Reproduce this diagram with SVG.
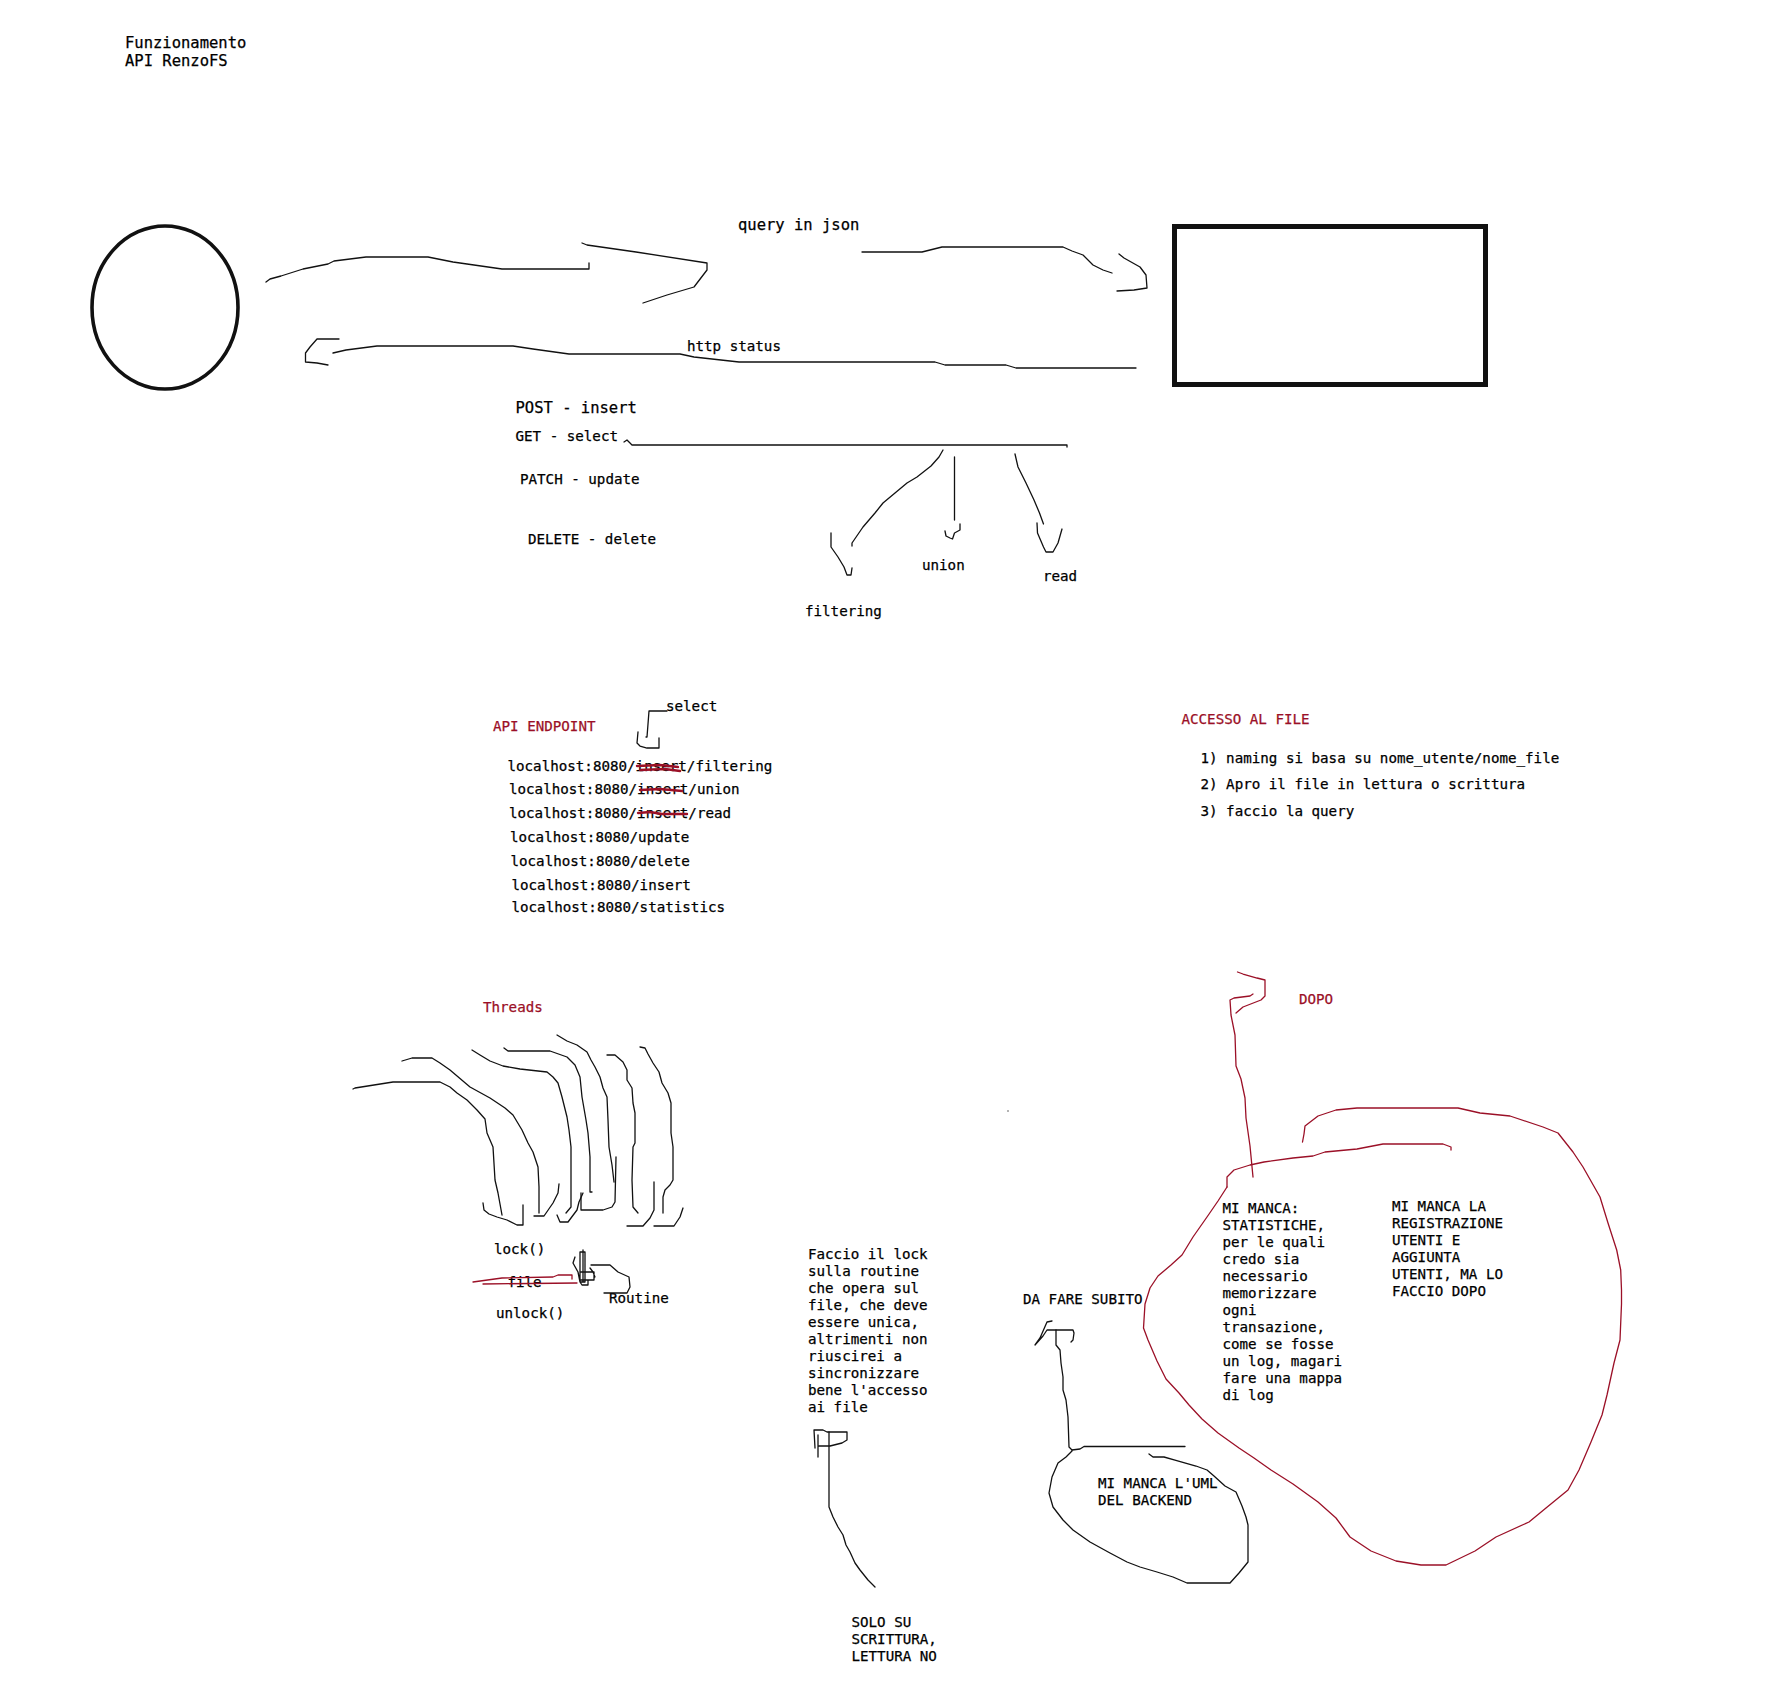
<svg xmlns="http://www.w3.org/2000/svg" width="1772" height="1699" viewBox="0 0 1772 1699">
<style>
text{font-family:"DejaVu Sans Mono","Liberation Mono",monospace;font-size:14.2px;fill:#000;stroke:#000;stroke-width:0.25}
.big{font-size:15.5px}
.red{fill:#9b1027;stroke:#9b1027}
.ln{fill:none;stroke:#111;stroke-width:1.3;stroke-linejoin:round;stroke-linecap:round}
.rl{fill:none;stroke:#9b1027;stroke-width:1.3;stroke-linejoin:round;stroke-linecap:round}
.st{fill:none;stroke:#9b1027;stroke-width:2.4;stroke-linecap:round}
</style>
<rect width="1772" height="1699" fill="#fff"/>
<g id="title"><text class="big" x="125" y="48">Funzionamento</text><text class="big" x="125" y="66">API RenzoFS</text></g>
<g id="client"><ellipse cx="165" cy="307.5" rx="73" ry="81.5" fill="none" stroke="#111" stroke-width="3.6"/></g>
<g id="server"><rect x="1174.5" y="226.5" width="311" height="158" fill="none" stroke="#111" stroke-width="5"/></g>
<g id="labels-top">
<text class="big" x="738" y="230">query in json</text>
<text x="687" y="351">http status</text>
<text class="big" x="515.5" y="413">POST - insert</text>
<text x="515.5" y="441">GET - select</text>
<text x="520" y="484">PATCH - update</text>
<text x="528" y="544">DELETE - delete</text>
<text x="922" y="570">union</text>
<text x="1043" y="581">read</text>
<text x="805" y="616">filtering</text>
</g>
<g id="endpoints">
<text class="red" x="493" y="731">API ENDPOINT</text>
<text x="666" y="711">select</text>
<text x="507.5" y="770.5">localhost:8080/insert/filtering</text>
<text x="509" y="794">localhost:8080/insert/union</text>
<text x="509" y="817.5">localhost:8080/insert/read</text>
<text x="510" y="841.5">localhost:8080/update</text>
<text x="510.5" y="866">localhost:8080/delete</text>
<text x="511.5" y="890">localhost:8080/insert</text>
<text x="511.5" y="912">localhost:8080/statistics</text>
<path class="st" d="M637 766 L660 765 L678 767 M640 770 L665 769 L680 771"/>
<path class="st" d="M640 790 L660 789 L682 791"/>
<path class="st" d="M638 813 L650 812 L662 814 L687 814"/>
</g>
<g id="accesso">
<text class="red" x="1181.5" y="724">ACCESSO AL FILE</text>
<text x="1200.5" y="763">1) naming si basa su nome_utente/nome_file</text>
<text x="1200.5" y="789">2) Apro il file in lettura o scrittura</text>
<text x="1200.5" y="816">3) faccio la query</text>
</g>
<g id="threads">
<text class="red" x="483" y="1011.5">Threads</text>
<text x="494" y="1254">lock()</text>
<text x="507.5" y="1287">file</text>
<text x="496" y="1318">unlock()</text>
<text x="609" y="1303">Routine</text>
</g>
<g id="faccio">
<text x="808" y="1259">Faccio il lock</text>
<text x="808" y="1276">sulla routine</text>
<text x="808" y="1293">che opera sul</text>
<text x="808" y="1310">file, che deve</text>
<text x="808" y="1327">essere unica,</text>
<text x="808" y="1344">altrimenti non</text>
<text x="808" y="1361">riuscirei a</text>
<text x="808" y="1378">sincronizzare</text>
<text x="808" y="1395">bene l'accesso</text>
<text x="808" y="1412">ai file</text>
</g>
<g id="solo"><text x="851.5" y="1626.5">SOLO SU</text><text x="851.5" y="1643.5">SCRITTURA,</text><text x="851.5" y="1660.5">LETTURA NO</text></g>
<g id="subito"><text x="1023" y="1304">DA FARE SUBITO</text></g>
<g id="uml"><text x="1098" y="1488">MI MANCA L'UML</text><text x="1098" y="1505">DEL BACKEND</text></g>
<g id="dopo"><text class="red" x="1299" y="1004">DOPO</text></g>
<g id="manca-stat">
<text x="1222.5" y="1213">MI MANCA:</text>
<text x="1222.5" y="1230">STATISTICHE,</text>
<text x="1222.5" y="1247">per le quali</text>
<text x="1222.5" y="1264">credo sia</text>
<text x="1222.5" y="1281">necessario</text>
<text x="1222.5" y="1298">memorizzare</text>
<text x="1222.5" y="1315">ogni</text>
<text x="1222.5" y="1332">transazione,</text>
<text x="1222.5" y="1349">come se fosse</text>
<text x="1222.5" y="1366">un log, magari</text>
<text x="1222.5" y="1383">fare una mappa</text>
<text x="1222.5" y="1400">di log</text>
</g>
<g id="manca-reg">
<text x="1392" y="1211">MI MANCA LA</text>
<text x="1392" y="1228">REGISTRAZIONE</text>
<text x="1392" y="1245">UTENTI E</text>
<text x="1392" y="1262">AGGIUNTA</text>
<text x="1392" y="1279">UTENTI, MA LO</text>
<text x="1392" y="1296">FACCIO DOPO</text>
</g>
<g id="connectors">
<path class="ln" d="M266 282 L270 279 L281 276 L303 269 L328 264 L334 261 L366 257 L428 257 L453 262 L502 269 L589 269 L589 263"/>
<path class="ln" d="M582 243 L587 245 L636 252 L707 263 L707 270 L694 287 L667 295 L643 303"/>
<path class="ln" d="M862 252 L922 252 L942 247 L1063 247 L1072 251 L1083 255 L1093 265 L1103 270 L1112 273"/>
<path class="ln" d="M1119 254 L1124 258 L1140 267 L1146 275 L1147 288 L1134 290 L1117 291"/>
<path class="ln" d="M339 339 L317 339 L310 347 L305.5 353 L305.5 362 L317 363 L328 365"/>
<path class="ln" d="M333 353 L346 350 L377 346 L513 346 L533 349 L569 354 L680 354 L694 357 L739 362 L935 362 L945 365 L1006 365 L1016 368 L1136 368"/>
<path class="ln" d="M624 442 L627 440 L632 445 L1067 445 L1067 447"/>
<path class="ln" d="M943 450 L939 457 L931 466 L917 477 L907 483 L895 493 L883 503 L875 513 L863 527 L852 543 L852 546"/>
<path class="ln" d="M831 533 L831 547 L838 557 L844 567 L847 575 L851 575 L852 568"/>
<path class="ln" d="M954.5 457 L954.5 520"/>
<path class="ln" d="M945 531 L946 536 L950 538 L952.5 539 L954.5 533 L960 530 L960 524"/>
<path class="ln" d="M1015 454 L1018 467 L1026 483 L1034 500 L1039.5 513 L1043.5 524"/>
<path class="ln" d="M1037 523 L1037.5 533 L1043.5 547 L1046 552 L1053 552 L1058 543 L1062 529"/>
<path class="ln" d="M667 711 L649 711 L647 737 L646 737"/>
<path class="ln" d="M638 732 L637 743 L640 746 L647 748 L659 748 L659 738"/>
<path class="ln" d="M353 1089 L355 1088 L393 1082 L440 1082 L450 1087 L457 1093 L467 1100 L477 1110 L485 1119 L487 1133 L493 1147 L495 1180 L498 1193 L502 1215"/>
<path class="ln" d="M483 1203 L484 1210 L489 1214 L497 1217 L507 1220 L517 1225 L523 1225 L523 1205"/>
<path class="ln" d="M402 1061 L412 1058 L432 1058 L440 1063 L450 1070 L470 1087 L490 1098 L505 1108 L513 1115 L522 1130 L528 1143 L533 1152 L538 1167 L539 1187 L539 1213"/>
<path class="ln" d="M534 1216 L544 1216 L553 1203 L558 1193 L559 1184"/>
<path class="ln" d="M472 1050 L480 1055 L490 1061 L503 1066 L520 1069 L547 1072 L553 1077 L558 1083 L562 1097 L567 1117 L569 1130 L571 1147 L571 1207 L566 1213"/>
<path class="ln" d="M557 1215 L560 1222 L568 1222 L577 1210 L579 1202 L583 1193"/>
<path class="ln" d="M504 1048 L508 1051 L520 1051 L550 1051 L567 1057 L575 1065 L580 1077 L582 1097 L586 1120 L588 1133 L590 1157 L590 1192 L592 1192"/>
<path class="ln" d="M581 1193 L581 1210 L603 1210 L612 1207 L615 1202 L616 1157"/>
<path class="ln" d="M557 1035 L567 1041 L577 1045 L587 1052 L591 1060 L595 1067 L600 1077 L603 1088 L607 1097 L608 1120 L609 1147 L612 1165 L614 1182"/>
<path class="ln" d="M607 1055 L615 1055 L623 1062 L627 1070 L627 1080 L632 1088 L633 1103 L635 1113 L635 1143 L633 1147 L632 1180 L633 1207 L638 1213"/>
<path class="ln" d="M627 1226 L643 1226 L650 1218 L654 1210 L654 1182"/>
<path class="ln" d="M640 1047 L645 1048 L648 1054 L653 1063 L659 1072 L662 1083 L668 1093 L671 1103 L671 1133 L673 1147 L673 1180 L670 1185 L665 1190 L663 1197 L663 1213"/>
<path class="ln" d="M654 1226 L674 1226 L680 1217 L683 1208"/>
<path class="rl" d="M473 1282 L502 1278 L553 1277 L558 1275 L572 1275 L572 1279"/>
<path class="rl" d="M483 1284 L577 1283"/>
<path class="ln" d="M580 1252 L585 1252 L585 1282 L580 1282 Z M581 1272 L594 1272 L594 1280 L581 1280 M583 1250 L583 1282 M575 1257 L573 1263 L578 1272 L580 1282 L582 1285 L588 1285 L588 1280 M590 1268 L593 1272 L595 1277"/>
<path class="ln" d="M591 1265 L610 1265 L618 1272 L629 1277 L630 1287 L627 1293 L604 1293"/>
<path class="ln" d="M814 1430 L823 1430 L827 1432 L847 1432 L847 1440 L842 1443 L830 1446 L819 1446 M814 1430 L815 1448 M818 1435 L818 1457"/>
<path class="ln" d="M829 1432 L829 1507 L833 1517 L838 1527 L843 1535 L846 1545 L850 1552 L855 1563 L860 1570 L868 1580 L875 1587"/>
<path class="ln" d="M1052 1321 L1047 1322 L1040 1338 L1035 1345 L1043 1336 L1047 1330 L1073 1330 L1074 1333 L1073 1340 L1071 1342"/>
<path class="ln" d="M1056 1330 L1056 1345 L1060 1350 L1061 1363 L1063 1377 L1063 1390 L1066 1400 L1068 1417 L1069 1447 L1072 1450"/>
<path class="ln" d="M1072 1450 L1080 1449 L1084 1446.5 L1185 1446.5"/>
<path class="ln" d="M1072 1451 L1066 1457 L1058 1463 L1052 1477 L1049 1493 L1053 1507 L1063 1520 L1073 1530 L1090 1542 L1110 1553 L1127 1562 L1140 1567 L1157 1572 L1173 1577 L1187 1583 L1207 1583 L1230 1583 L1239 1573 L1248 1562 L1248 1525 L1246 1517 L1242 1506 L1236 1492 L1225 1486 L1214 1476 L1207 1470 L1196 1466 L1175 1460 L1164 1457 L1153 1457 L1149 1454"/>
<path class="rl" d="M1253 1177 L1250 1146 L1246 1118 L1245 1098 L1241 1079 L1236 1066 L1235 1035 L1231 1015 L1230 1000 L1234 998 L1250 996 L1253 994"/>
<path class="rl" d="M1236 1013 L1243 1007 L1261 1000 L1265 996 L1265 980 L1257 978 L1243 974 L1237.5 972"/>
<path class="rl" d="M1227 1187 L1227 1177 L1234 1170 L1250 1165 L1264 1162 L1293 1158 L1313 1156 L1325 1152 L1357 1149 L1383 1144 L1443 1144 L1451 1147 L1451 1150"/>
<path class="rl" d="M1227 1187 L1218 1201 L1207 1217 L1193 1237 L1182 1255 L1171 1265 L1158 1276 L1150 1288 L1145 1304 L1143.5 1328 L1148 1340 L1157 1361 L1166 1379 L1179 1393 L1189 1405 L1202 1419 L1218 1433 L1239 1448 L1254 1458 L1271 1470 L1293 1484 L1318 1502 L1336 1518 L1350 1537 L1371 1551 L1396 1561 L1421 1565 L1446 1565 L1475 1551 L1496 1537 L1529 1522 L1546 1508 L1568 1490 L1579 1470 L1591 1442 L1602 1415 L1607 1395 L1614 1363 L1620 1340 L1621.5 1304 L1621.5 1290 L1620.7 1270 L1616.7 1250 L1608 1223 L1600 1197 L1583 1167 L1573 1152 L1558 1133 L1543 1127 L1510 1116 L1480 1113 L1458 1108 L1357 1108 L1336 1110 L1318 1116 L1305 1126 L1304 1134 L1302.5 1142"/>
<circle cx="1008" cy="1111" r="0.8" fill="#555"/>
</g>
</svg>
